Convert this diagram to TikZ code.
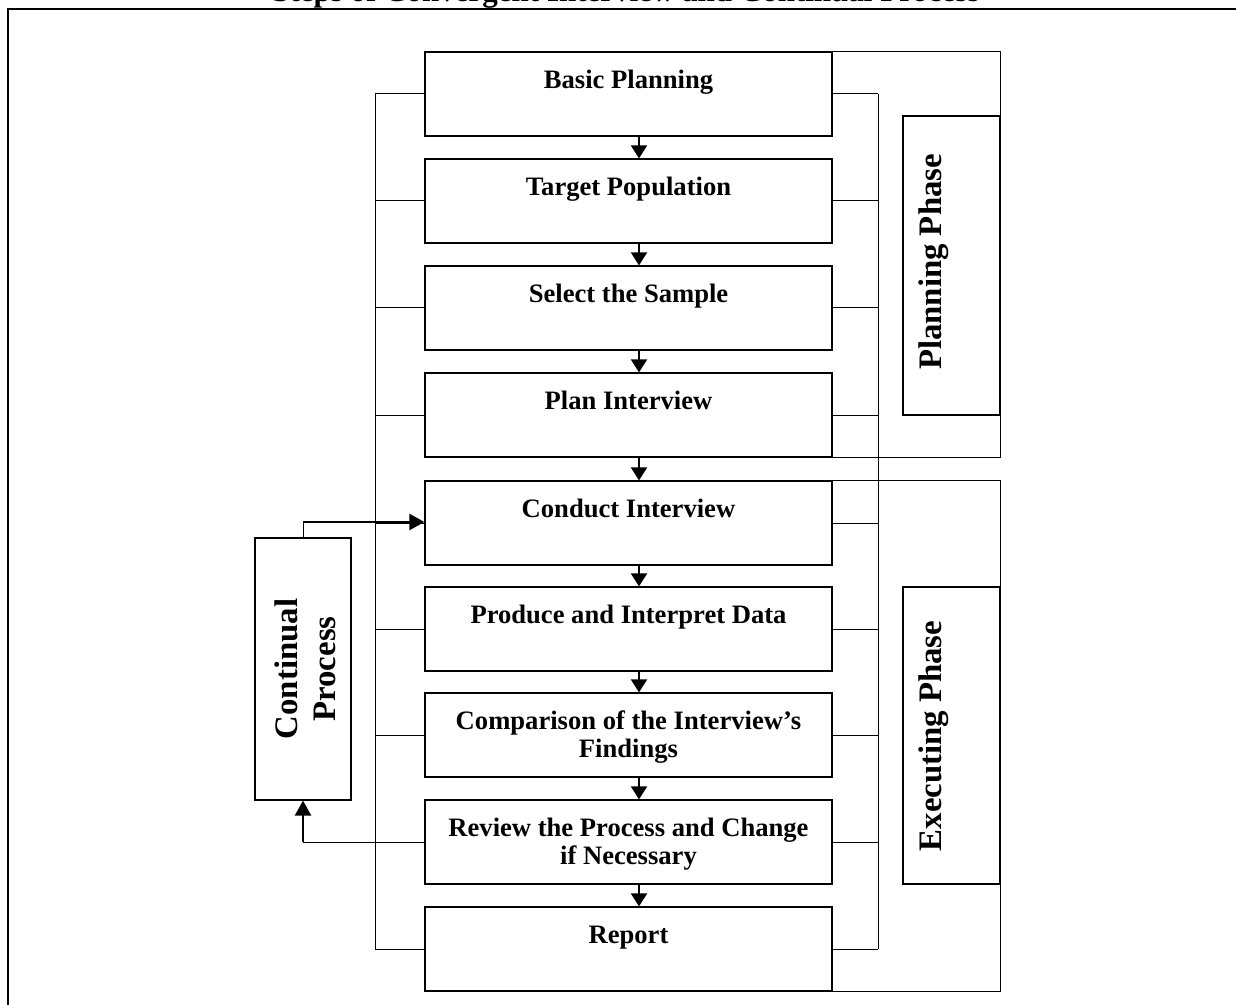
\documentclass[tikz,border=0pt]{standalone}
\usepackage{fontspec}
\setmainfont{Liberation Serif}
\usetikzlibrary{arrows.meta}
\begin{document}
\begin{tikzpicture}[x=0.5pt,y=-0.5pt,
  box/.style={draw, line width=0.6pt, minimum width=203.5pt, minimum height=42pt, inner sep=0pt},
  lbl/.style={anchor=north, inner sep=0pt, align=center, font=\fontsize{13.3}{14}\selectfont\bfseries},
  conn/.style={line width=0.5pt},
  flow/.style={line width=1pt, -{Triangle[length=6.5pt,width=8pt]}},
  loopar/.style={line width=1.2pt, -{Triangle[length=7.5pt,width=8pt]}},
  phase/.style={draw, line width=0.6pt, inner sep=0pt, minimum width=48.5pt},
  vlbl/.style={rotate=90, inner sep=0pt, font=\fontsize{16.4}{19}\selectfont\bfseries, align=center}
]
\useasboundingbox (0,0) rectangle (1236,1005);
\node[font=\fontsize{15.5}{18}\selectfont\bfseries, anchor=base, inner sep=0pt] (title) at (626,2) {Steps of Convergent Interview and Continual Process};
\coordinate (fTL) at (8,9);
\coordinate (fTR) at (1240,9);
\coordinate (fBL) at (8,1010);
\draw[line width=0.85pt] (fTR) -- (fTL) -- (fBL);

% main boxes
\node[box] (b1) at (628.5,94) {};
\node[box] (b2) at (628.5,201) {};
\node[box] (b3) at (628.5,308) {};
\node[box] (b4) at (628.5,415) {};
\node[box] (b5) at (628.5,523) {};
\node[box] (b6) at (628.5,629) {};
\node[box] (b7) at (628.5,735) {};
\node[box] (b8) at (628.5,842) {};
\node[box] (b9) at (628.5,949) {};

\node[lbl] (t1) at (b1.north) {\rule{0pt}{18.5pt}Basic Planning};
\node[lbl] (t2) at (b2.north) {\rule{0pt}{18.5pt}Target Population};
\node[lbl] (t3) at (b3.north) {\rule{0pt}{18.5pt}Select the Sample};
\node[lbl] (t4) at (b4.north) {\rule{0pt}{18.5pt}Plan Interview};
\node[lbl] (t5) at (b5.north) {\rule{0pt}{18.5pt}Conduct Interview};
\node[lbl] (t6) at (b6.north) {\rule{0pt}{18.5pt}Produce and Interpret Data};
\node[lbl] (t7) at (b7.north) {\rule{0pt}{18.5pt}Comparison of the Interview’s\\Findings};
\node[lbl] (t8) at (b8.north) {\rule{0pt}{18.5pt}Review the Process and Change\\if Necessary};
\node[lbl] (t9) at (b9.north) {\rule{0pt}{18.5pt}Report};

\foreach \a/\b in {b1/b2,b2/b3,b3/b4,b4/b5,b5/b6,b6/b7,b7/b8,b8/b9}
  \draw[flow] ([xshift=5.25pt]\a.south) -- ([xshift=5.25pt]\b.north);

% side brackets
\coordinate (L1) at (375,94);
\coordinate (L9) at (375,949);
\coordinate (R1) at (878,94);
\coordinate (R9) at (878,949);
\draw[conn] (L1) -- (L9);
\draw[conn] (R1) -- (R9);
\foreach \b in {b1,b2,b3,b4,b5,b6,b7,b8,b9}{
  \draw[conn] (\b.west) -- (\b.west -| L1);
  \draw[conn] (\b.east) -- (\b.east -| R1);
}

% phase frames
\coordinate (P1) at (1000,52);
\draw[conn] (b1.north east) -- (b1.north east -| P1) -- (b4.south east -| P1) -- (b4.south east);
\draw[conn] (b5.north east) -- (b5.north east -| P1) -- (b9.south east -| P1) -- (b9.south east);

\node[phase, minimum height=149.5pt] (pp) at (951.5,265.5) {};
\node[vlbl, anchor=base] (ppt) at (941,262) {Planning Phase};
\node[phase, minimum height=148.5pt] (ep) at (951.5,735.5) {};
\node[vlbl, anchor=base] (ept) at (941,736) {Executing Phase};

% continual process
\node[draw, line width=0.6pt, minimum width=48pt, minimum height=131pt, inner sep=0pt] (cp) at (303,669) {};
\node[vlbl] (cpt) at (305,669) {Continual\\Process};
\coordinate (cA) at (303,522);
\draw[conn] (cp.north) -- (cA);
\draw[loopar] (cA) -- (cA -| b5.west);
\coordinate (cB) at (303,842);
\draw[conn] (b8.west) -- (cB);
\draw[loopar] (cB) -- (cp.south);
\end{tikzpicture}
\end{document}
